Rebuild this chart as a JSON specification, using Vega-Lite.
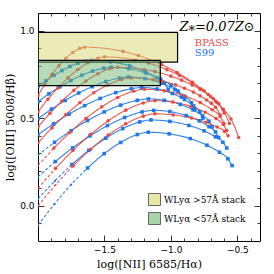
{
"$schema": "https://vega.github.io/schema/vega-lite/v6.json",
"width": 222, "height": 228,
"autosize": {"type": "none"},
"padding": {"left": 38, "top": 13, "right": 14, "bottom": 33},
"background": "white",
"config": {
 "view": {"stroke": "black", "strokeWidth": 1},
 "axis": {"domain": false, "grid": false, "labelFont": "DejaVu Sans", "labelFontSize": 9, "labelColor": "black", "titleFont": "DejaVu Serif", "titleFontSize": 11, "titleFontWeight": "normal", "titleColor": "black", "tickColor": "black", "tickWidth": 0.8}
},
"datasets": {
"grid": [
{"m":"S99","c":"B1","s":"dash","x":-2.0,"y":-0.11},{"m":"S99","c":"B1","s":"dash","x":-1.876,"y":0.011},{"m":"S99","c":"B1","s":"dash","x":-1.751,"y":0.121},{"m":"S99","c":"B1","s":"dash","x":-1.627,"y":0.216},
{"m":"S99","c":"B1","s":"solid","x":-1.627,"y":0.216},{"m":"S99","c":"B1","s":"solid","x":-1.502,"y":0.298},{"m":"S99","c":"B1","s":"solid","x":-1.378,"y":0.362},{"m":"S99","c":"B1","s":"solid","x":-1.253,"y":0.407},{"m":"S99","c":"B1","s":"solid","x":-1.17,"y":0.42},{"m":"S99","c":"B1","s":"solid","x":-1.013,"y":0.411},{"m":"S99","c":"B1","s":"solid","x":-0.855,"y":0.384},{"m":"S99","c":"B1","s":"solid","x":-0.729,"y":0.346},{"m":"S99","c":"B1","s":"solid","x":-0.635,"y":0.306},{"m":"S99","c":"B1","s":"solid","x":-0.572,"y":0.269},{"m":"S99","c":"B1","s":"solid","x":-0.54,"y":0.23},
{"m":"S99","c":"B2","s":"dash","x":-2.0,"y":0.04},{"m":"S99","c":"B2","s":"dash","x":-1.873,"y":0.143},{"m":"S99","c":"B2","s":"dash","x":-1.745,"y":0.236},
{"m":"S99","c":"B2","s":"solid","x":-1.745,"y":0.236},{"m":"S99","c":"B2","s":"solid","x":-1.618,"y":0.317},{"m":"S99","c":"B2","s":"solid","x":-1.49,"y":0.386},{"m":"S99","c":"B2","s":"solid","x":-1.363,"y":0.441},{"m":"S99","c":"B2","s":"solid","x":-1.235,"y":0.479},{"m":"S99","c":"B2","s":"solid","x":-1.15,"y":0.49},{"m":"S99","c":"B2","s":"solid","x":-1.008,"y":0.482},{"m":"S99","c":"B2","s":"solid","x":-0.865,"y":0.459},{"m":"S99","c":"B2","s":"solid","x":-0.751,"y":0.428},{"m":"S99","c":"B2","s":"solid","x":-0.665,"y":0.394},{"m":"S99","c":"B2","s":"solid","x":-0.609,"y":0.363},{"m":"S99","c":"B2","s":"solid","x":-0.58,"y":0.33},
{"m":"S99","c":"B3","s":"dash","x":-2.0,"y":0.166},{"m":"S99","c":"B3","s":"dash","x":-1.87,"y":0.253},
{"m":"S99","c":"B3","s":"solid","x":-1.87,"y":0.253},{"m":"S99","c":"B3","s":"solid","x":-1.739,"y":0.331},{"m":"S99","c":"B3","s":"solid","x":-1.609,"y":0.399},{"m":"S99","c":"B3","s":"solid","x":-1.478,"y":0.458},{"m":"S99","c":"B3","s":"solid","x":-1.348,"y":0.504},{"m":"S99","c":"B3","s":"solid","x":-1.217,"y":0.536},{"m":"S99","c":"B3","s":"solid","x":-1.13,"y":0.545},{"m":"S99","c":"B3","s":"solid","x":-1.008,"y":0.538},{"m":"S99","c":"B3","s":"solid","x":-0.885,"y":0.515},{"m":"S99","c":"B3","s":"solid","x":-0.787,"y":0.485},{"m":"S99","c":"B3","s":"solid","x":-0.714,"y":0.452},{"m":"S99","c":"B3","s":"solid","x":-0.665,"y":0.422},{"m":"S99","c":"B3","s":"solid","x":-0.64,"y":0.39},
{"m":"S99","c":"B4","s":"dash","x":-2.0,"y":0.29},{"m":"S99","c":"B4","s":"dash","x":-1.876,"y":0.363},
{"m":"S99","c":"B4","s":"solid","x":-1.876,"y":0.363},{"m":"S99","c":"B4","s":"solid","x":-1.751,"y":0.429},{"m":"S99","c":"B4","s":"solid","x":-1.627,"y":0.487},{"m":"S99","c":"B4","s":"solid","x":-1.502,"y":0.536},{"m":"S99","c":"B4","s":"solid","x":-1.378,"y":0.575},{"m":"S99","c":"B4","s":"solid","x":-1.253,"y":0.602},{"m":"S99","c":"B4","s":"solid","x":-1.17,"y":0.61},{"m":"S99","c":"B4","s":"solid","x":-1.05,"y":0.602},{"m":"S99","c":"B4","s":"solid","x":-0.93,"y":0.579},{"m":"S99","c":"B4","s":"solid","x":-0.834,"y":0.548},{"m":"S99","c":"B4","s":"solid","x":-0.762,"y":0.514},{"m":"S99","c":"B4","s":"solid","x":-0.714,"y":0.483},{"m":"S99","c":"B4","s":"solid","x":-0.69,"y":0.45},
{"m":"S99","c":"B5","s":"solid","x":-2.0,"y":0.406},{"m":"S99","c":"B5","s":"solid","x":-1.883,"y":0.468},{"m":"S99","c":"B5","s":"solid","x":-1.766,"y":0.523},{"m":"S99","c":"B5","s":"solid","x":-1.649,"y":0.572},{"m":"S99","c":"B5","s":"solid","x":-1.532,"y":0.613},{"m":"S99","c":"B5","s":"solid","x":-1.415,"y":0.646},{"m":"S99","c":"B5","s":"solid","x":-1.298,"y":0.668},{"m":"S99","c":"B5","s":"solid","x":-1.22,"y":0.675},{"m":"S99","c":"B5","s":"solid","x":-1.105,"y":0.667},{"m":"S99","c":"B5","s":"solid","x":-0.99,"y":0.641},{"m":"S99","c":"B5","s":"solid","x":-0.898,"y":0.607},{"m":"S99","c":"B5","s":"solid","x":-0.829,"y":0.57},{"m":"S99","c":"B5","s":"solid","x":-0.783,"y":0.536},{"m":"S99","c":"B5","s":"solid","x":-0.76,"y":0.5},
{"m":"S99","c":"B6","s":"solid","x":-2.0,"y":0.497},{"m":"S99","c":"B6","s":"solid","x":-1.898,"y":0.552},{"m":"S99","c":"B6","s":"solid","x":-1.796,"y":0.601},{"m":"S99","c":"B6","s":"solid","x":-1.694,"y":0.644},{"m":"S99","c":"B6","s":"solid","x":-1.592,"y":0.68},{"m":"S99","c":"B6","s":"solid","x":-1.49,"y":0.709},{"m":"S99","c":"B6","s":"solid","x":-1.388,"y":0.729},{"m":"S99","c":"B6","s":"solid","x":-1.32,"y":0.735},{"m":"S99","c":"B6","s":"solid","x":-1.195,"y":0.726},{"m":"S99","c":"B6","s":"solid","x":-1.07,"y":0.7},{"m":"S99","c":"B6","s":"solid","x":-0.97,"y":0.663},{"m":"S99","c":"B6","s":"solid","x":-0.895,"y":0.624},{"m":"S99","c":"B6","s":"solid","x":-0.845,"y":0.588},{"m":"S99","c":"B6","s":"solid","x":-0.82,"y":0.55},
{"m":"S99","c":"B7","s":"solid","x":-2.0,"y":0.594},{"m":"S99","c":"B7","s":"solid","x":-1.918,"y":0.639},{"m":"S99","c":"B7","s":"solid","x":-1.835,"y":0.679},{"m":"S99","c":"B7","s":"solid","x":-1.753,"y":0.715},{"m":"S99","c":"B7","s":"solid","x":-1.67,"y":0.745},{"m":"S99","c":"B7","s":"solid","x":-1.588,"y":0.769},{"m":"S99","c":"B7","s":"solid","x":-1.505,"y":0.785},{"m":"S99","c":"B7","s":"solid","x":-1.45,"y":0.79},{"m":"S99","c":"B7","s":"solid","x":-1.318,"y":0.782},{"m":"S99","c":"B7","s":"solid","x":-1.185,"y":0.757},{"m":"S99","c":"B7","s":"solid","x":-1.079,"y":0.724},{"m":"S99","c":"B7","s":"solid","x":-0.999,"y":0.688},{"m":"S99","c":"B7","s":"solid","x":-0.947,"y":0.655},{"m":"S99","c":"B7","s":"solid","x":-0.92,"y":0.62},
{"m":"S99","c":"B8","s":"solid","x":-2.0,"y":0.68},{"m":"S99","c":"B8","s":"solid","x":-1.94,"y":0.714},{"m":"S99","c":"B8","s":"solid","x":-1.88,"y":0.745},{"m":"S99","c":"B8","s":"solid","x":-1.82,"y":0.772},{"m":"S99","c":"B8","s":"solid","x":-1.76,"y":0.795},{"m":"S99","c":"B8","s":"solid","x":-1.7,"y":0.814},{"m":"S99","c":"B8","s":"solid","x":-1.64,"y":0.826},{"m":"S99","c":"B8","s":"solid","x":-1.6,"y":0.83},{"m":"S99","c":"B8","s":"solid","x":-1.455,"y":0.822},{"m":"S99","c":"B8","s":"solid","x":-1.31,"y":0.798},{"m":"S99","c":"B8","s":"solid","x":-1.194,"y":0.766},{"m":"S99","c":"B8","s":"solid","x":-1.107,"y":0.731},{"m":"S99","c":"B8","s":"solid","x":-1.049,"y":0.699},{"m":"S99","c":"B8","s":"solid","x":-1.02,"y":0.665},
{"m":"BPASS","c":"R1","s":"dash","x":-2.0,"y":0.0},{"m":"BPASS","c":"R1","s":"dash","x":-1.868,"y":0.12},{"m":"BPASS","c":"R1","s":"dash","x":-1.736,"y":0.228},
{"m":"BPASS","c":"R1","s":"solid","x":-1.736,"y":0.228},{"m":"BPASS","c":"R1","s":"solid","x":-1.604,"y":0.323},{"m":"BPASS","c":"R1","s":"solid","x":-1.472,"y":0.404},{"m":"BPASS","c":"R1","s":"solid","x":-1.34,"y":0.468},{"m":"BPASS","c":"R1","s":"solid","x":-1.208,"y":0.512},{"m":"BPASS","c":"R1","s":"solid","x":-1.12,"y":0.525},{"m":"BPASS","c":"R1","s":"solid","x":-0.983,"y":0.519},{"m":"BPASS","c":"R1","s":"solid","x":-0.845,"y":0.501},{"m":"BPASS","c":"R1","s":"solid","x":-0.735,"y":0.477},{"m":"BPASS","c":"R1","s":"solid","x":-0.653,"y":0.45},{"m":"BPASS","c":"R1","s":"solid","x":-0.598,"y":0.426},{"m":"BPASS","c":"R1","s":"solid","x":-0.57,"y":0.4},
{"m":"BPASS","c":"R2","s":"dash","x":-2.0,"y":0.1},{"m":"BPASS","c":"R2","s":"dash","x":-1.868,"y":0.214},
{"m":"BPASS","c":"R2","s":"solid","x":-1.868,"y":0.214},{"m":"BPASS","c":"R2","s":"solid","x":-1.736,"y":0.317},{"m":"BPASS","c":"R2","s":"solid","x":-1.604,"y":0.408},{"m":"BPASS","c":"R2","s":"solid","x":-1.472,"y":0.485},{"m":"BPASS","c":"R2","s":"solid","x":-1.34,"y":0.546},{"m":"BPASS","c":"R2","s":"solid","x":-1.208,"y":0.587},{"m":"BPASS","c":"R2","s":"solid","x":-1.12,"y":0.6},{"m":"BPASS","c":"R2","s":"solid","x":-0.985,"y":0.592},{"m":"BPASS","c":"R2","s":"solid","x":-0.85,"y":0.567},{"m":"BPASS","c":"R2","s":"solid","x":-0.742,"y":0.534},{"m":"BPASS","c":"R2","s":"solid","x":-0.661,"y":0.498},{"m":"BPASS","c":"R2","s":"solid","x":-0.607,"y":0.465},{"m":"BPASS","c":"R2","s":"solid","x":-0.58,"y":0.43},
{"m":"BPASS","c":"R3","s":"dash","x":-2.0,"y":0.23},{"m":"BPASS","c":"R3","s":"dash","x":-1.88,"y":0.33},
{"m":"BPASS","c":"R3","s":"solid","x":-1.88,"y":0.33},{"m":"BPASS","c":"R3","s":"solid","x":-1.76,"y":0.419},{"m":"BPASS","c":"R3","s":"solid","x":-1.64,"y":0.498},{"m":"BPASS","c":"R3","s":"solid","x":-1.52,"y":0.565},{"m":"BPASS","c":"R3","s":"solid","x":-1.4,"y":0.618},{"m":"BPASS","c":"R3","s":"solid","x":-1.28,"y":0.654},{"m":"BPASS","c":"R3","s":"solid","x":-1.2,"y":0.665},{"m":"BPASS","c":"R3","s":"solid","x":-1.05,"y":0.656},{"m":"BPASS","c":"R3","s":"solid","x":-0.9,"y":0.628},{"m":"BPASS","c":"R3","s":"solid","x":-0.78,"y":0.589},{"m":"BPASS","c":"R3","s":"solid","x":-0.69,"y":0.548},{"m":"BPASS","c":"R3","s":"solid","x":-0.63,"y":0.51},{"m":"BPASS","c":"R3","s":"solid","x":-0.6,"y":0.47},
{"m":"BPASS","c":"R4","s":"solid","x":-2.0,"y":0.36},{"m":"BPASS","c":"R4","s":"solid","x":-1.895,"y":0.445},{"m":"BPASS","c":"R4","s":"solid","x":-1.79,"y":0.521},{"m":"BPASS","c":"R4","s":"solid","x":-1.685,"y":0.588},{"m":"BPASS","c":"R4","s":"solid","x":-1.58,"y":0.645},{"m":"BPASS","c":"R4","s":"solid","x":-1.475,"y":0.69},{"m":"BPASS","c":"R4","s":"solid","x":-1.37,"y":0.721},{"m":"BPASS","c":"R4","s":"solid","x":-1.3,"y":0.73},{"m":"BPASS","c":"R4","s":"solid","x":-1.133,"y":0.72},{"m":"BPASS","c":"R4","s":"solid","x":-1.066,"y":0.711},{"m":"BPASS","c":"R4","s":"solid","x":-0.965,"y":0.69},{"m":"BPASS","c":"R4","s":"solid","x":-0.898,"y":0.671},{"m":"BPASS","c":"R4","s":"solid","x":-0.831,"y":0.649},{"m":"BPASS","c":"R4","s":"solid","x":-0.781,"y":0.628},{"m":"BPASS","c":"R4","s":"solid","x":-0.731,"y":0.604},{"m":"BPASS","c":"R4","s":"solid","x":-0.697,"y":0.586},{"m":"BPASS","c":"R4","s":"solid","x":-0.664,"y":0.563},{"m":"BPASS","c":"R4","s":"solid","x":-0.63,"y":0.52},
{"m":"BPASS","c":"R5","s":"solid","x":-2.0,"y":0.45},{"m":"BPASS","c":"R5","s":"solid","x":-1.91,"y":0.528},{"m":"BPASS","c":"R5","s":"solid","x":-1.82,"y":0.598},{"m":"BPASS","c":"R5","s":"solid","x":-1.73,"y":0.659},{"m":"BPASS","c":"R5","s":"solid","x":-1.64,"y":0.712},{"m":"BPASS","c":"R5","s":"solid","x":-1.55,"y":0.753},{"m":"BPASS","c":"R5","s":"solid","x":-1.46,"y":0.782},{"m":"BPASS","c":"R5","s":"solid","x":-1.4,"y":0.79},{"m":"BPASS","c":"R5","s":"solid","x":-1.2,"y":0.778},{"m":"BPASS","c":"R5","s":"solid","x":-1.12,"y":0.766},{"m":"BPASS","c":"R5","s":"solid","x":-1.0,"y":0.74},{"m":"BPASS","c":"R5","s":"solid","x":-0.92,"y":0.717},{"m":"BPASS","c":"R5","s":"solid","x":-0.84,"y":0.689},{"m":"BPASS","c":"R5","s":"solid","x":-0.78,"y":0.664},{"m":"BPASS","c":"R5","s":"solid","x":-0.72,"y":0.635},{"m":"BPASS","c":"R5","s":"solid","x":-0.68,"y":0.611},{"m":"BPASS","c":"R5","s":"solid","x":-0.64,"y":0.583},{"m":"BPASS","c":"R5","s":"solid","x":-0.6,"y":0.53},
{"m":"BPASS","c":"R6","s":"solid","x":-2.0,"y":0.537},{"m":"BPASS","c":"R6","s":"solid","x":-1.925,"y":0.609},{"m":"BPASS","c":"R6","s":"solid","x":-1.85,"y":0.673},{"m":"BPASS","c":"R6","s":"solid","x":-1.775,"y":0.73},{"m":"BPASS","c":"R6","s":"solid","x":-1.7,"y":0.778},{"m":"BPASS","c":"R6","s":"solid","x":-1.625,"y":0.816},{"m":"BPASS","c":"R6","s":"solid","x":-1.55,"y":0.842},{"m":"BPASS","c":"R6","s":"solid","x":-1.5,"y":0.85},{"m":"BPASS","c":"R6","s":"solid","x":-1.265,"y":0.832},{"m":"BPASS","c":"R6","s":"solid","x":-1.171,"y":0.815},{"m":"BPASS","c":"R6","s":"solid","x":-1.03,"y":0.777},{"m":"BPASS","c":"R6","s":"solid","x":-0.936,"y":0.744},{"m":"BPASS","c":"R6","s":"solid","x":-0.842,"y":0.703},{"m":"BPASS","c":"R6","s":"solid","x":-0.772,"y":0.666},{"m":"BPASS","c":"R6","s":"solid","x":-0.701,"y":0.623},{"m":"BPASS","c":"R6","s":"solid","x":-0.654,"y":0.589},{"m":"BPASS","c":"R6","s":"solid","x":-0.607,"y":0.548},{"m":"BPASS","c":"R6","s":"solid","x":-0.56,"y":0.47},
{"m":"BPASS","c":"R7","s":"solid","x":-2.0,"y":0.63},{"m":"BPASS","c":"R7","s":"solid","x":-1.948,"y":0.693},{"m":"BPASS","c":"R7","s":"solid","x":-1.895,"y":0.75},{"m":"BPASS","c":"R7","s":"solid","x":-1.843,"y":0.799},{"m":"BPASS","c":"R7","s":"solid","x":-1.79,"y":0.842},{"m":"BPASS","c":"R7","s":"solid","x":-1.738,"y":0.875},{"m":"BPASS","c":"R7","s":"solid","x":-1.685,"y":0.898},{"m":"BPASS","c":"R7","s":"solid","x":-1.65,"y":0.905},{"m":"BPASS","c":"R7","s":"solid","x":-1.36,"y":0.881},{"m":"BPASS","c":"R7","s":"solid","x":-1.244,"y":0.857},{"m":"BPASS","c":"R7","s":"solid","x":-1.07,"y":0.806},{"m":"BPASS","c":"R7","s":"solid","x":-0.954,"y":0.761},{"m":"BPASS","c":"R7","s":"solid","x":-0.838,"y":0.705},{"m":"BPASS","c":"R7","s":"solid","x":-0.751,"y":0.656},{"m":"BPASS","c":"R7","s":"solid","x":-0.664,"y":0.597},{"m":"BPASS","c":"R7","s":"solid","x":-0.606,"y":0.551},{"m":"BPASS","c":"R7","s":"solid","x":-0.548,"y":0.496},{"m":"BPASS","c":"R7","s":"solid","x":-0.49,"y":0.39}
],
"boxes": [
{"stack":"WLyα >57Å stack","x":-2.0,"x2":-0.95,"y":0.82,"y2":0.99},
{"stack":"WLyα <57Å stack","x":-2.0,"x2":-1.08,"y":0.686,"y2":0.83}
]
},
"layer": [
{
 "data": {"name": "grid"},
 "mark": {"type": "line", "strokeWidth": 1.1, "opacity": 0.9, "clip": true, "interpolate": "monotone"},
 "encoding": {
  "x": {"field": "x", "type": "quantitative", "scale": {"domain": [-2.0, -0.33], "nice": false, "zero": false},
        "axis": {"orient": "bottom", "title": "log([NII] 6585/Hα)", "values": [-1.9,-1.8,-1.7,-1.6,-1.5,-1.4,-1.3,-1.2,-1.1,-1.0,-0.9,-0.8,-0.7,-0.6,-0.5,-0.4],
                 "labelExpr": "abs(datum.value*2 - round(datum.value*2)) < 0.001 ? format(datum.value, '.1f') : ''",
                 "tickSize": {"condition": {"test": "abs(datum.value*2 - round(datum.value*2)) < 0.001", "value": -6}, "value": -3},
                 "labelPadding": 10, "titlePadding": 4}},
  "y": {"field": "y", "type": "quantitative", "scale": {"domain": [-0.2, 1.1], "nice": false, "zero": false},
        "axis": {"orient": "left", "title": "log([OIII] 5008/Hβ)", "values": [-0.1,0.0,0.1,0.2,0.3,0.4,0.5,0.6,0.7,0.8,0.9,1.0],
                 "labelExpr": "abs(datum.value*2 - round(datum.value*2)) < 0.001 ? format(datum.value, '.1f') : ''",
                 "tickSize": {"condition": {"test": "abs(datum.value*2 - round(datum.value*2)) < 0.001", "value": -6}, "value": -3},
                 "labelPadding": 10, "titlePadding": 4}},
  "color": {"field": "m", "type": "nominal", "scale": {"domain": ["BPASS", "S99"], "range": ["#e8473d", "#1a73e8"]}, "legend": null},
  "strokeDash": {"field": "s", "type": "nominal", "scale": {"domain": ["dash", "solid"], "range": [[3, 2], [1, 0]]}, "legend": null},
  "detail": {"field": "c"}
 }
},
{
 "data": {"name": "grid"},
 "mark": {"type": "point", "filled": true, "opacity": 0.95, "clip": true},
 "encoding": {
  "x": {"field": "x", "type": "quantitative", "axis": {"orient": "top", "title": null, "labels": false, "values": [-1.9,-1.8,-1.7,-1.6,-1.5,-1.4,-1.3,-1.2,-1.1,-1.0,-0.9,-0.8,-0.7,-0.6,-0.5,-0.4],
        "tickSize": {"condition": {"test": "abs(datum.value*2 - round(datum.value*2)) < 0.001", "value": -6}, "value": -3}}},
  "y": {"field": "y", "type": "quantitative", "axis": {"orient": "right", "title": null, "labels": false, "values": [-0.1,0.0,0.1,0.2,0.3,0.4,0.5,0.6,0.7,0.8,0.9,1.0],
        "tickSize": {"condition": {"test": "abs(datum.value*2 - round(datum.value*2)) < 0.001", "value": -6}, "value": -3}}},
  "color": {"field": "m", "type": "nominal", "legend": null},
  "shape": {"field": "m", "type": "nominal", "scale": {"domain": ["BPASS", "S99"], "range": ["circle", "square"]}, "legend": null},
  "size": {"field": "s", "type": "nominal", "scale": {"domain": ["dash", "solid"], "range": [4, 13]}, "legend": null}
 }
},
{
 "data": {"name": "boxes"},
 "mark": {"type": "rect", "stroke": "black", "strokeWidth": 1.2, "fillOpacity": 0.5, "clip": true},
 "encoding": {
  "x": {"field": "x", "type": "quantitative", "axis": null},
  "x2": {"field": "x2"},
  "y": {"field": "y", "type": "quantitative", "axis": null},
  "y2": {"field": "y2"},
  "fill": {"field": "stack", "type": "nominal", "sort": null,
    "scale": {"domain": ["WLyα >57Å stack", "WLyα <57Å stack"], "range": ["#d8d870", "#70b870"]},
    "legend": {"orient": "bottom-right", "title": null, "offset": 14, "symbolType": "square", "symbolSize": 144, "symbolStrokeColor": "black", "symbolStrokeWidth": 1, "symbolOpacity": 0.6, "labelFont": "DejaVu Serif", "labelFontSize": 9, "labelColor": "black", "rowPadding": 2, "padding": 0, "labelOffset": 3}}
 }
},
{
 "data": {"values": [{}]},
 "mark": {"type": "text", "text": "Z⁎=0.07Z⊙", "font": "DejaVu Serif", "fontStyle": "italic", "fontSize": 13, "align": "right", "baseline": "middle", "color": "black"},
 "encoding": {"x": {"datum": -0.37, "type": "quantitative", "axis": null}, "y": {"datum": 1.02, "type": "quantitative", "axis": null}}
},
{
 "data": {"values": [{}]},
 "mark": {"type": "text", "text": "BPASS", "font": "DejaVu Serif", "fontSize": 10, "align": "left", "baseline": "middle", "color": "#e8473d"},
 "encoding": {"x": {"datum": -0.82, "type": "quantitative", "axis": null}, "y": {"datum": 0.93, "type": "quantitative", "axis": null}}
},
{
 "data": {"values": [{}]},
 "mark": {"type": "text", "text": "S99", "font": "DejaVu Serif", "fontSize": 10, "align": "left", "baseline": "middle", "color": "#1a73e8"},
 "encoding": {"x": {"datum": -0.82, "type": "quantitative", "axis": null}, "y": {"datum": 0.874, "type": "quantitative", "axis": null}}
}
]
}
